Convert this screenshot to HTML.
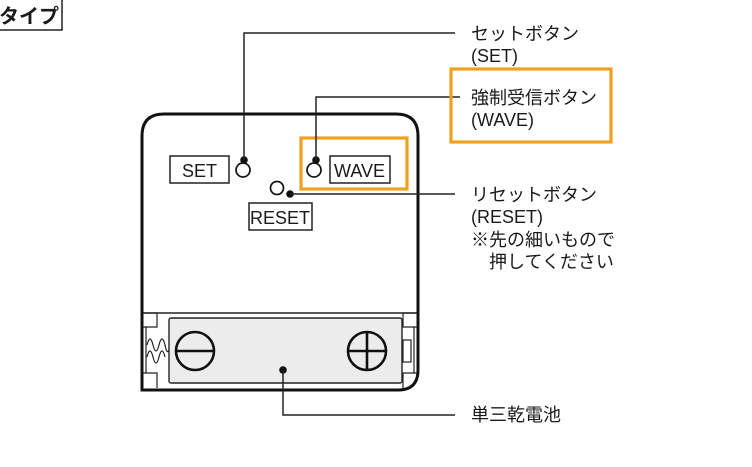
<!DOCTYPE html>
<html><head><meta charset="utf-8"><style>
html,body{margin:0;padding:0;background:#fff;}
svg{display:block;}
text{font-family:"Liberation Sans","Noto Sans CJK JP",sans-serif;fill:#1a1a1a;}
</style></head><body>
<svg width="752" height="467" viewBox="0 0 752 467" xmlns="http://www.w3.org/2000/svg">
<rect x="-5" y="-5" width="67" height="35" fill="#fff" stroke="#222" stroke-width="1.5"/>
<text x="-1" y="23" font-size="20" font-weight="bold">タイプ</text>

<path d="M142,390 L142,136 Q142,114 164,114 L396,114 Q418,114 418,136 L418,370 Q418,390 398,390 Z" fill="#fff" stroke="#111" stroke-width="3"/>
<line x1="143" y1="313" x2="417" y2="313" stroke="#222" stroke-width="1.4"/>
<path d="M143,313 L157,313 L157,327 L143,327" fill="none" stroke="#222" stroke-width="1.2"/>
<path d="M143,373 L157,373 L157,388" fill="none" stroke="#222" stroke-width="1.2"/>
<path d="M417,313 L403,313 L403,327 L417,327" fill="none" stroke="#222" stroke-width="1.2"/>
<path d="M417,373 L403,373 L403,388" fill="none" stroke="#222" stroke-width="1.2"/>
<line x1="146" y1="327" x2="146" y2="373" stroke="#222" stroke-width="1.2"/>
<line x1="414" y1="327" x2="414" y2="373" stroke="#222" stroke-width="1.2"/>
<path d="M147,345 Q150,333 153,345 Q156,357 159,345 Q162,333 165,345 Q167,355 169,350" fill="none" stroke="#222" stroke-width="1.2"/>
<path d="M147,357 Q150,345 153,357 Q156,369 159,357 Q162,345 165,357" fill="none" stroke="#222" stroke-width="1.2"/>
<rect x="403" y="340" width="8" height="22" fill="#fff" stroke="#222" stroke-width="1.2"/>

<rect x="169" y="318" width="233" height="65" rx="2" fill="#ececec" stroke="#222" stroke-width="1.4"/>
<circle cx="195" cy="351" r="19" fill="none" stroke="#111" stroke-width="2.6"/>
<line x1="177" y1="351" x2="213" y2="351" stroke="#111" stroke-width="2.6"/>
<circle cx="367" cy="351" r="19" fill="none" stroke="#111" stroke-width="2.6"/>
<line x1="349" y1="351" x2="385" y2="351" stroke="#111" stroke-width="2.6"/>
<line x1="367" y1="333" x2="367" y2="369" stroke="#111" stroke-width="2.6"/>
<circle cx="283" cy="370" r="3.8" fill="#111"/>
<polyline points="283,370 283,415 455,415" fill="none" stroke="#222" stroke-width="1.5"/>

<rect x="170" y="156" width="59" height="27" fill="#fff" stroke="#222" stroke-width="1.5"/>
<text x="182" y="177" font-size="18">SET</text>
<circle cx="243" cy="170" r="7" fill="none" stroke="#111" stroke-width="1.7"/>
<circle cx="244" cy="160" r="3.8" fill="#111"/>
<polyline points="244,160 244,33 455,33" fill="none" stroke="#222" stroke-width="1.5"/>

<rect x="301" y="138" width="106" height="51" fill="none" stroke="#f0a020" stroke-width="3.2"/>
<rect x="330" y="156" width="60" height="27" fill="#fff" stroke="#222" stroke-width="1.5"/>
<text x="334" y="177" font-size="18">WAVE</text>
<circle cx="314" cy="170" r="7" fill="none" stroke="#111" stroke-width="1.7"/>
<circle cx="316" cy="160" r="3.8" fill="#111"/>
<polyline points="316,160 316,97 460,97" fill="none" stroke="#222" stroke-width="1.5"/>

<circle cx="277" cy="188" r="6.5" fill="none" stroke="#111" stroke-width="1.7"/>
<circle cx="290" cy="194" r="3.8" fill="#111"/>
<line x1="290" y1="194" x2="455" y2="194" stroke="#222" stroke-width="1.5"/>
<rect x="249" y="203" width="63" height="27" fill="#fff" stroke="#222" stroke-width="1.5"/>
<text x="250" y="224" font-size="18">RESET</text>

<text x="471" y="40" font-size="18">セットボタン</text>
<text x="471" y="62" font-size="18">(SET)</text>
<rect x="451" y="69" width="160" height="73" fill="none" stroke="#f0a020" stroke-width="3.2"/>
<text x="471" y="104" font-size="18">強制受信ボタン</text>
<text x="471" y="126" font-size="18">(WAVE)</text>
<text x="471" y="201" font-size="18">リセットボタン</text>
<text x="471" y="223" font-size="18">(RESET)</text>
<text x="471" y="246" font-size="18">※先の細いもので</text>
<text x="489" y="268" font-size="18">押してください</text>
<text x="471" y="421" font-size="18">単三乾電池</text>
</svg>
</body></html>
